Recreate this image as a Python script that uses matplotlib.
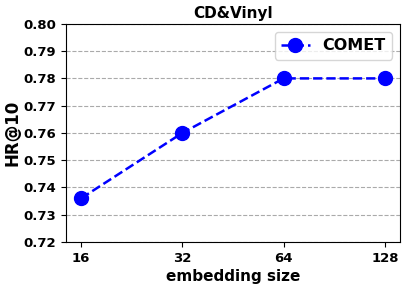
import matplotlib
matplotlib.use('Agg')
import matplotlib.pyplot as plt

# data
sizes = ['16', '32', '64', '128']
hr10 = [0.736, 0.760, 0.780, 0.780]
yticks = [0.72, 0.73, 0.74, 0.75, 0.76, 0.77, 0.78, 0.79, 0.80]

fig = plt.figure(figsize=(4.07, 2.88), dpi=100)
ax = fig.add_axes([0.162, 0.16, 0.821, 0.757])

x = list(range(len(sizes)))
ax.plot(x, hr10, color='blue', linestyle='--', linewidth=1.8, marker='o', markersize=10, label='COMET')

ax.set_xticks(x)
ax.set_xticklabels(sizes)
ax.set_yticks(yticks)
ax.set_yticklabels(['%.2f' % v for v in yticks])
ax.set_ylim(0.72, 0.80)
ax.yaxis.grid(True, linestyle='--', color='#aaaaaa', linewidth=0.8)
ax.set_axisbelow(True)
ax.tick_params(labelsize=9.5)

for lbl in ax.get_xticklabels() + ax.get_yticklabels():
    lbl.set_fontweight('bold')

ax.set_xlabel('embedding size', fontsize=11, fontweight='bold', labelpad=3)
ax.set_ylabel('HR@10', fontsize=12, fontweight='bold', labelpad=1)
ax.set_title('CD&Vinyl', fontsize=11, fontweight='bold', pad=4)
ax.legend(loc='upper right', prop={'weight': 'bold', 'size': 11.5}, handlelength=1.8)

fig.savefig('out.png', dpi=100)
